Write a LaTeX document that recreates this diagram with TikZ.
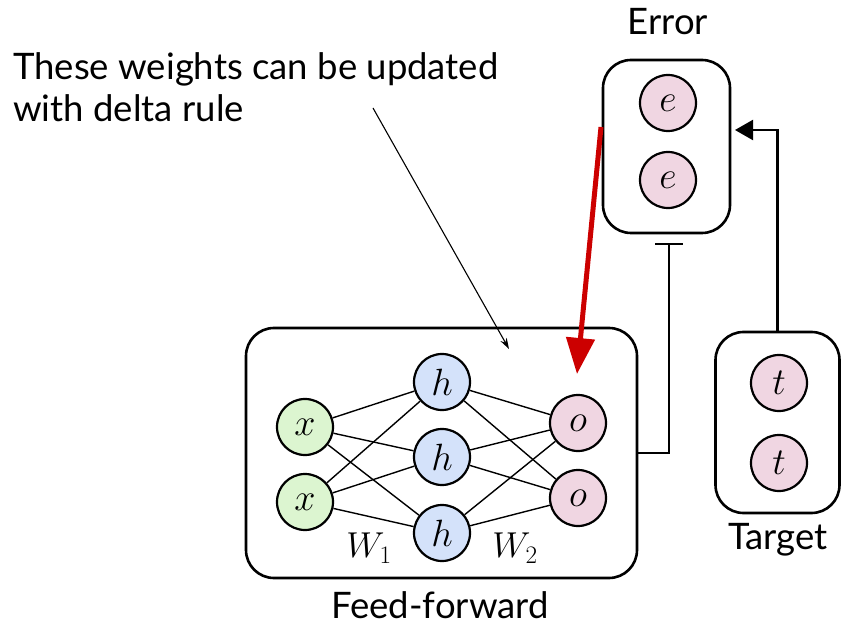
\RequirePackage{fix-cm}
\documentclass[tikz,border=0pt]{standalone}
\usepackage[no-math]{fontspec}
\setmainfont{Lato}
\usetikzlibrary{arrows.meta, positioning, calc}
\definecolor{InGreen}{RGB}{220, 245, 208}
\definecolor{HidBlue}{RGB}{212, 226, 250}
\definecolor{OutPink}{RGB}{240, 214, 226}
\definecolor{DeltaRed}{RGB}{204, 0, 0}

\begin{document}
\begin{tikzpicture}[x=1pt, y=-1pt,
  unit/.style={circle, draw, line width=2.2pt, minimum size=56pt,
               inner sep=0pt, font=\fontsize{38}{38}\selectfont},
  inp/.style={unit, fill=InGreen},
  hid/.style={unit, fill=HidBlue},
  outp/.style={unit, fill=OutPink},
  block/.style={draw, line width=2.6pt, rounded corners=28pt, inner sep=0pt},
  wt/.style={line width=1.4pt},
  lnk/.style={line width=2.2pt},
  lbl/.style={font=\fontsize{36.5}{42}\selectfont}
]
  \useasboundingbox (0,0) rectangle (841,628);

  \node[block, minimum width=391pt, minimum height=250pt] (ffbox) at (441.5,453) {};
  \node[block, minimum width=127pt, minimum height=173pt] (errbox) at (666.5,146.5) {};
  \node[block, minimum width=124pt, minimum height=181pt] (tgtbox) at (777.5,422.5) {};

  \node[inp] (x1) at (305,427) {$x$};
  \node[inp] (x2) at (305,502) {$x$};
  \node[hid] (h1) at (442,382) {$h$};
  \node[hid] (h2) at (442,457) {$h$};
  \node[hid] (h3) at (442,533) {$h$};
  \node[outp] (o1) at (578,423) {$o$};
  \node[outp] (o2) at (578,498) {$o$};
  \node[outp] (e1) at (668,103) {$e$};
  \node[outp] (e2) at (668,180) {$e$};
  \node[outp] (t1) at (779,383) {$t$};
  \node[outp] (t2) at (779,463) {$t$};

  \foreach \i in {1,2}
    \foreach \j in {1,2,3} {
      \draw[wt] (x\i) -- (h\j);
      \draw[wt] (h\j) -- (o\i);
    }

  \node[font=\fontsize{36}{36}\selectfont] (w1) at (369,548) {$W_1$};
  \node[font=\fontsize{36}{36}\selectfont] (w2) at (515,548) {$W_2$};

  \node[lbl] (errlbl) at (668,22) {Error};
  \node[lbl] (fflbl) at (440,605) {Feed-forward};
  \node[lbl] (tgtlbl) at (778,540) {Target};
  \node[lbl, anchor=north west, align=left, inner sep=0pt] (note) at (13,52)
    {These weights can be updated\\with delta rule};

  \coordinate (errout) at (669,243);
  \coordinate (errin) at (735,130);
  \coordinate (notefoot) at (373,108);
  \coordinate (notetip) at (509,349);
  \coordinate (deltafoot) at (601,127);
  \coordinate (deltatip) at (577,374);

  \draw[lnk, -{Bar[width=28pt, line width=2.4pt]}] (ffbox.east) -| (errout);
  \draw[lnk, -{Triangle[length=18pt, width=20pt]}] (tgtbox.north) |- (errin);
  \draw[line width=1.1pt, -{Stealth[length=11pt, width=7pt]}] (notefoot) -- (notetip);
  \draw[DeltaRed, line width=5pt, -{Triangle[length=36pt, width=28pt]}] (deltafoot) -- (deltatip);
\end{tikzpicture}
\end{document}
